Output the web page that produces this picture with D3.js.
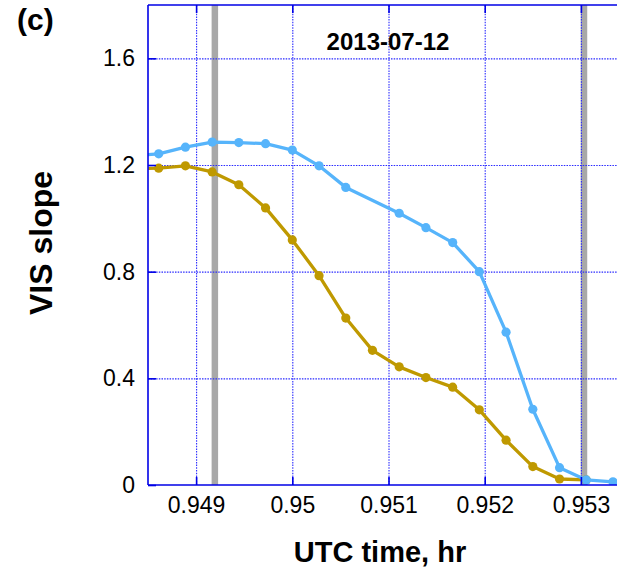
<!DOCTYPE html>
<html>
<head>
<meta charset="utf-8">
<script src="https://cdn.jsdelivr.net/npm/d3@7"></script>
<style>
  html, body { margin: 0; padding: 0; background: #fff; }
  svg { display: block; }
  text { font-family: "Liberation Sans", Arial, Helvetica, sans-serif; fill: #000; }
</style>
</head>
<body>
<svg id="chart" width="617" height="571"></svg>
<script>
// ---- data ----
const times = [0.948333, 0.948611, 0.948889, 0.949167, 0.949444, 0.949722, 0.950000,
               0.950278, 0.950556, 0.950833, 0.951111, 0.951389, 0.951667, 0.951944,
               0.952222, 0.952500, 0.952778, 0.953056, 0.953333];
const blueSlope = [1.235, 1.242, 1.267, 1.286, 1.284, 1.280, 1.256, 1.197, 1.116, null,
                   1.019, 0.965, 0.909, 0.800, 0.573, 0.284, 0.065, 0.019, 0.012];
const goldSlope = [1.186, 1.188, 1.197, 1.174, 1.126, 1.039, 0.919, 0.785, 0.626, 0.505,
                   0.443, 0.403, 0.367, 0.282, 0.168, 0.069, 0.0225, 0.019, null];
const markerTimes = [0.949195, 0.953032];
const xTicks = [0.949, 0.950, 0.951, 0.952, 0.953];
const xTickLabels = ["0.949", "0.95", "0.951", "0.952", "0.953"];
const yTicks = [0, 0.4, 0.8, 1.2, 1.6];
const yTickLabels = ["0", "0.4", "0.8", "1.2", "1.6"];
const panelLabel = "(c)";
const dateLabel = "2013-07-12";
const xTitle = "UTC time, hr";
const yTitle = "VIS slope";

// ---- layout ----
const svg = d3.select("#chart");
const pL = 148, pR = 624.2, pT = 5, pB = 485;
const x = d3.scaleLinear().domain([0.9485, 0.95345]).range([pL, pR]);
const y = d3.scaleLinear().domain([0, 1.8]).range([pB, pT]);
const axisColor = "#0000e6";

svg.append("defs").append("clipPath").attr("id", "plotclip")
  .append("rect").attr("x", pL).attr("y", pT).attr("width", pR - pL).attr("height", pB - pT);

const plot = svg.append("g").attr("clip-path", "url(#plotclip)");

// gray vertical markers
plot.selectAll("line.mark").data(markerTimes).enter().append("line")
  .attr("x1", d => x(d)).attr("x2", d => x(d)).attr("y1", pT).attr("y2", pB)
  .attr("stroke", "#a8a8a8").attr("stroke-width", 6.5);

// grid
const gx = d3.axisBottom(x).tickValues(xTicks).tickSize(-(pB - pT)).tickFormat("");
const gy = d3.axisLeft(y).tickValues(yTicks.filter(d => d > 0)).tickSize(-(pR - pL)).tickFormat("");
const gridX = plot.append("g").attr("transform", `translate(0,${pB})`).call(gx);
const gridY = plot.append("g").attr("transform", `translate(${pL},0)`).call(gy);
[gridX, gridY].forEach(g => {
  g.select(".domain").remove();
  g.selectAll(".tick line").attr("stroke", "#2a2aff").attr("stroke-width", 1.1)
    .attr("stroke-dasharray", "1.5,1.2");
});

// series
function series(vals, color) {
  const pts = times.map((t, i) => ({t, v: vals[i]})).filter(d => d.v !== null);
  const line = d3.line().x(d => x(d.t)).y(d => y(d.v));
  plot.append("path").datum(pts).attr("d", line).attr("fill", "none")
    .attr("stroke", color).attr("stroke-width", 3.3).attr("stroke-linejoin", "round");
  plot.selectAll(null).data(pts).enter().append("circle")
    .attr("cx", d => x(d.t)).attr("cy", d => y(d.v)).attr("r", 4.6).attr("fill", color);
}
series(goldSlope, "#bf9900");
series(blueSlope, "#56b4fb");

// axes (ticks inward)
const frame = svg.append("g");
frame.append("line").attr("x1", pL).attr("x2", pL).attr("y1", pT).attr("y2", pB)
  .attr("stroke", axisColor).attr("stroke-width", 1.6);
frame.append("line").attr("x1", pL).attr("x2", 617).attr("y1", pB).attr("y2", pB)
  .attr("stroke", axisColor).attr("stroke-width", 1.6);
frame.append("line").attr("x1", pL).attr("x2", 617).attr("y1", pT).attr("y2", pT)
  .attr("stroke", axisColor).attr("stroke-width", 1.6);

const axB = d3.axisBottom(x).tickValues(xTicks).tickSize(-8).tickFormat((d, i) => xTickLabels[i]).tickPadding(12);
const axT = d3.axisTop(x).tickValues(xTicks).tickSize(-8).tickFormat("");
const axL = d3.axisLeft(y).tickValues(yTicks).tickSize(-8).tickFormat((d, i) => yTickLabels[i]).tickPadding(13);
const gB = svg.append("g").attr("transform", `translate(0,${pB})`).call(axB);
const gT = svg.append("g").attr("transform", `translate(0,${pT})`).call(axT);
const gL = svg.append("g").attr("transform", `translate(${pL},0)`).call(axL);
[gB, gT, gL].forEach(g => {
  g.select(".domain").remove();
  g.selectAll(".tick line").attr("stroke", axisColor).attr("stroke-width", 1.6);
  g.selectAll(".tick text").style("font-family", '"Liberation Sans", Arial, sans-serif')
    .style("font-size", "23px").attr("fill", "#000");
});

// labels
svg.append("text").attr("x", 17).attr("y", 30).text(panelLabel)
  .style("font-size", "30px").style("font-weight", "bold");
svg.append("text").attr("x", 388).attr("y", 50).attr("text-anchor", "middle").text(dateLabel)
  .style("font-size", "24px").style("font-weight", "bold");
svg.append("text").attr("x", 380).attr("y", 562).attr("text-anchor", "middle").text(xTitle)
  .style("font-size", "29px").style("font-weight", "bold");
svg.append("text").attr("transform", "translate(52,243) rotate(-90)").attr("text-anchor", "middle")
  .text(yTitle).style("font-size", "32px").style("font-weight", "bold");
</script>
</body>
</html>
